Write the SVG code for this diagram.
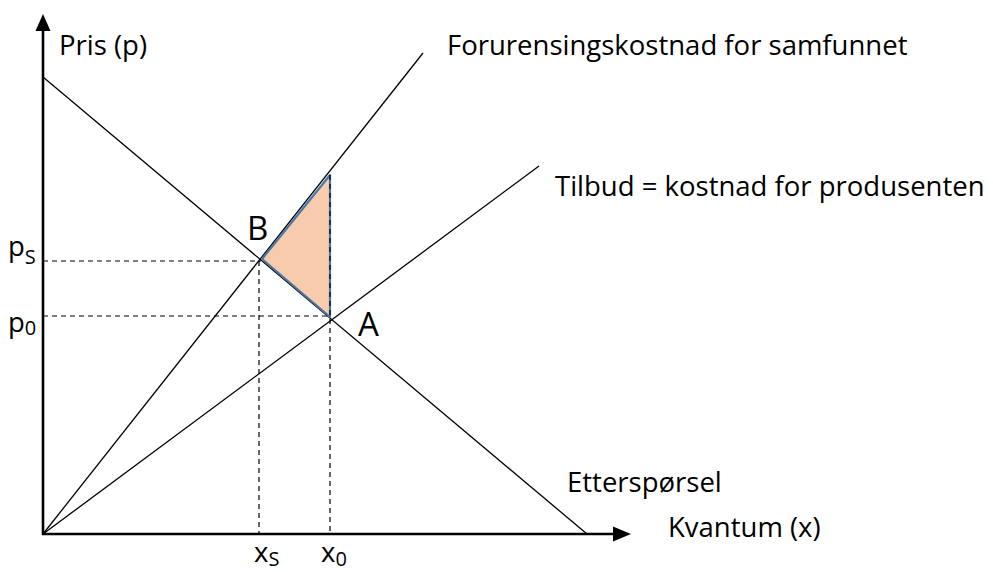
<svg xmlns="http://www.w3.org/2000/svg" width="993" height="572" viewBox="0 0 993 572">
<style>
.ln{stroke:#000;stroke-width:1.3;fill:none}
.ax{stroke:#000;stroke-width:2.6;fill:none}
.da{stroke:#000;stroke-width:1.2;stroke-dasharray:5 4;fill:none}
text{font-family:"Open Sans","Noto Sans",sans-serif;fill:#000}
.lb{font-size:27.5px}
.big{font-size:33px}
.sub{font-size:20px}
</style>
<rect width="993" height="572" fill="#fff"/>
<g id="connectors">
<line class="ln" x1="43" y1="77" x2="587" y2="534"/>
<line class="ln" x1="43" y1="534" x2="539" y2="166"/>
<line class="ln" x1="43" y1="534" x2="423" y2="53"/>
<line class="da" x1="43" y1="261" x2="261" y2="261"/>
<line class="da" x1="43" y1="316" x2="330" y2="316"/>
<line class="da" x1="259" y1="261" x2="259" y2="534"/>
<line class="da" x1="330" y1="175" x2="330" y2="534"/>
</g>
<g id="triangle">
<polygon points="262,259 330,175 330,317" fill="#F8CBAD" stroke="#4A76A4" stroke-width="2.2" stroke-linejoin="round"/>
<line x1="330" y1="175" x2="330" y2="317" stroke="#000" stroke-width="1.2" stroke-dasharray="5 4"/>
</g>
<g id="axes">
<line class="ax" x1="43" y1="535" x2="43" y2="28"/>
<polygon points="43,14 35.5,31 50.5,31" fill="#000"/>
<line class="ax" x1="42" y1="534" x2="615" y2="534"/>
<polygon points="631,534 613,526.5 613,541.5" fill="#000"/>
</g>
<g id="labels">
<text class="lb" x="59" y="55">Pris (p)</text>
<text class="lb" x="447" y="55">Forurensingskostnad for samfunnet</text>
<text class="lb" x="555" y="196">Tilbud = kostnad for produsenten</text>
<text class="lb" x="567" y="492">Etterspørsel</text>
<text class="lb" x="668" y="537">Kvantum (x)</text>
<text class="big" x="247" y="240">B</text>
<text class="big" x="358" y="336">A</text>
<text class="lb" x="8" y="256">p<tspan class="sub" dy="8">S</tspan></text>
<text class="lb" x="8" y="332">p<tspan class="sub" dy="3">0</tspan></text>
<text class="lb" x="254" y="562">x<tspan class="sub" dy="4">S</tspan></text>
<text class="lb" x="321" y="562">x<tspan class="sub" dy="4">0</tspan></text>
</g>
</svg>
